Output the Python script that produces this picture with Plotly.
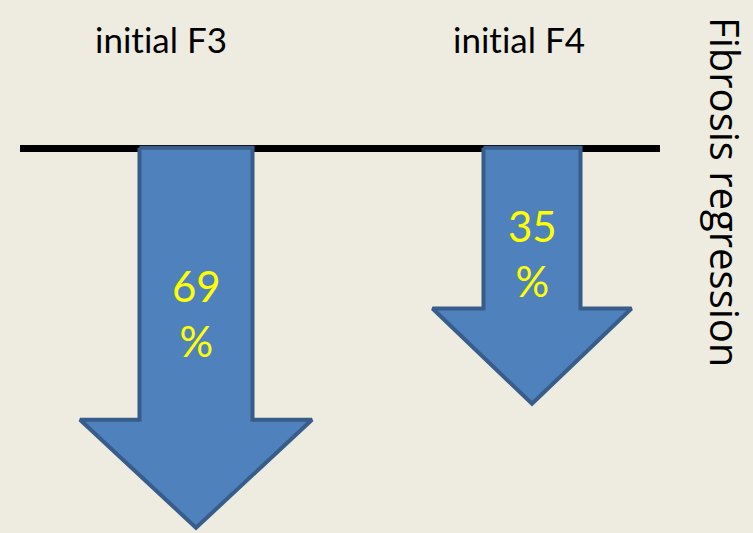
import plotly.graph_objects as go

# ---- data ----
categories = ["initial F3", "initial F4"]
values = [69, 35]            # % fibrosis regression
value_unit = "%"
side_title = "Fibrosis regression"

# ---- styling / layout constants (pixel space) ----
W, H = 753, 533
BG = "#EEECE1"
FILL = "#4F81BD"
EDGE = "#385D8A"
BASE_Y = 147.7               # top of arrows (baseline)
LINE_X = (20, 660)
LINE_Y = 148.5
ARROW_CX = [196, 532]
SHAFT_HALF = [56.5, 48.5]
HEAD_HALF = [116, 99.5]
HEAD_LEN = [108, 95.3]
DEPTH_OFFSET = 128.4         # px
DEPTH_PER_PCT = 3.647        # px per %
TEXT_FRAC = [0.437, 0.412]
LABEL_X = [160.5, 519]
LABEL_Y = 39


def no_lig(s):
    # keep Lato from forming the "ti" ligature
    return s.replace("ti", "t\u200ci")


fig = go.Figure()

# baseline
fig.add_trace(go.Scatter(x=list(LINE_X), y=[LINE_Y, LINE_Y], mode="lines",
                         line=dict(color="black", width=7), hoverinfo="skip",
                         showlegend=False))

for i, (cat, v) in enumerate(zip(categories, values)):
    cx = ARROW_CX[i]
    depth = DEPTH_OFFSET + DEPTH_PER_PCT * v
    tip = BASE_Y + depth
    hb = tip - HEAD_LEN[i]
    sh, hh = SHAFT_HALF[i], HEAD_HALF[i]
    xs = [cx - sh, cx + sh, cx + sh, cx + hh, cx, cx - hh, cx - sh, cx - sh]
    ys = [BASE_Y, BASE_Y, hb, hb, tip, hb, hb, BASE_Y]
    fig.add_trace(go.Scatter(x=xs, y=ys, mode="lines", fill="toself",
                             fillcolor=FILL, line=dict(color=EDGE, width=4),
                             name=cat, showlegend=False, hoverinfo="skip"))
    # value label inside arrow
    fig.add_annotation(x=cx, y=BASE_Y + TEXT_FRAC[i] * depth,
                       text=f"{v}<br>{value_unit}", showarrow=False,
                       font=dict(family="Lato, Carlito, sans-serif", size=42, color="#FFFF00"),
                       xanchor="center", yanchor="middle")
    # category label
    fig.add_annotation(x=LABEL_X[i], y=LABEL_Y, text=no_lig(cat), showarrow=False,
                       font=dict(family="Lato, Carlito, sans-serif", size=35, color="black"),
                       xanchor="center", yanchor="middle")

fig.add_annotation(x=726, y=192, text=side_title, textangle=90, showarrow=False,
                   font=dict(family="Open Sans, sans-serif", size=40, color="black"),
                   xanchor="center", yanchor="middle")

fig.update_layout(
    width=W, height=H, margin=dict(l=0, r=0, t=0, b=0),
    paper_bgcolor=BG, plot_bgcolor=BG,
    xaxis=dict(range=[0, W], visible=False, fixedrange=True),
    yaxis=dict(range=[H, 0], visible=False, fixedrange=True),
)

fig.write_html("out.html")
